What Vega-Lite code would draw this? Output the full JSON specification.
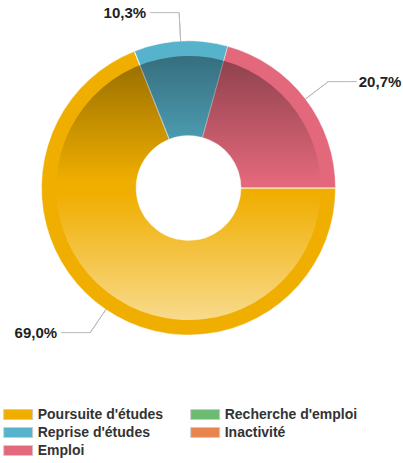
{
  "$schema": "https://vega.github.io/schema/vega-lite/v6.json",
  "width": 377,
  "height": 376,
  "autosize": {"type": "none"},
  "padding": {"left": 0, "top": 0, "right": 26, "bottom": 87},
  "background": "white",
  "config": {
    "view": {"stroke": null},
    "legend": {
      "symbolStrokeColor": "#cccccc",
      "symbolStrokeWidth": 1,
      "symbolOpacity": 1,
      "labelFont": "Liberation Sans",
      "labelFontSize": 14,
      "labelFontWeight": "bold",
      "labelColor": "#333333",
      "labelLimit": 300
    }
  },
  "data": {"values": [
    {"categorie": "Poursuite d'études", "part": 0.690, "libelle": "69,0%"},
    {"categorie": "Reprise d'études", "part": 0.103, "libelle": "10,3%"},
    {"categorie": "Emploi", "part": 0.207, "libelle": "20,7%"},
    {"categorie": "Recherche d'emploi", "part": 0, "libelle": "0,0%"},
    {"categorie": "Inactivité", "part": 0, "libelle": "0,0%"}
  ]},
  "layer": [
    {
      "mark": {"type": "arc", "outerRadius": 147, "innerRadius": 52.5, "stroke": "#ffffff", "strokeWidth": 0.6, "strokeOpacity": 0.7},
      "encoding": {
        "theta": {"field": "part", "type": "quantitative", "stack": true, "scale": {"domain": [0, 1], "range": [0.27018, 6.55337]}},
        "order": {"field": "categorie", "type": "ordinal", "sort": "ascending"},
        "color": {
          "field": "categorie",
          "type": "nominal",
          "scale": {
            "domain": ["Poursuite d'études", "Reprise d'études", "Emploi", "Recherche d'emploi", "Inactivité"],
            "range": ["#F0AE00", "#57B2CB", "#E3687B", "#6DBB72", "#E8854F"]
          },
          "legend": {
            "title": null,
            "orient": "none",
            "legendX": 11.2,
            "legendY": 407.5,
            "columns": 2,
            "padding": 0,
            "symbolType": "M-2.9,-1H2.9V1H-2.9Z",
            "symbolSize": 100,
            "labelOffset": 12.5,
            "rowPadding": 4,
            "columnPadding": 25
          }
        }
      }
    },
    {
      "transform": [{"aggregate": [{"op": "sum", "field": "part", "as": "total"}]}],
      "mark": {
        "type": "arc",
        "outerRadius": 132,
        "innerRadius": 52.5,
        "fill": {
          "gradient": "linear",
          "x1": 0, "y1": 0, "x2": 0, "y2": 1,
          "stops": [
            {"offset": 0, "color": "rgba(0,0,0,0.38)"},
            {"offset": 0.48, "color": "rgba(0,0,0,0)"},
            {"offset": 0.52, "color": "rgba(255,255,255,0)"},
            {"offset": 1, "color": "rgba(255,255,255,0.55)"}
          ]
        }
      },
      "encoding": {"theta": {"field": "total", "type": "quantitative"}}
    },
    {
      "transform": [
        {"stack": "part", "groupby": [], "sort": [{"field": "categorie", "order": "ascending"}], "as": ["debut", "fin"]},
        {"filter": "datum.part > 0"},
        {"fold": ["debut", "fin"], "as": ["borne", "angle"]},
        {"aggregate": [{"op": "mean", "field": "angle", "as": "milieu"}], "groupby": ["categorie", "libelle"]}
      ],
      "mark": {"type": "arc", "outerRadius": 175, "innerRadius": 147, "fillOpacity": 0, "stroke": "#bbbbbb", "strokeWidth": 1},
      "encoding": {
        "theta": {"field": "milieu", "type": "quantitative"},
        "theta2": {"field": "milieu"}
      }
    },
    {
      "transform": [
        {"stack": "part", "groupby": [], "sort": [{"field": "categorie", "order": "ascending"}], "as": ["debut", "fin"]},
        {"filter": "datum.categorie === 'Emploi'"},
        {"fold": ["debut", "fin"], "as": ["borne", "angle"]},
        {"aggregate": [{"op": "mean", "field": "angle", "as": "milieu"}], "groupby": ["categorie", "libelle"]}
      ],
      "mark": {"type": "text", "radius": 175, "align": "left", "baseline": "middle", "dx": 0, "font": "DejaVu Sans", "fontSize": 12, "color": "#bbbbbb", "text": "────"},
      "encoding": {
        "theta": {"field": "milieu", "type": "quantitative"}
      }
    },
    {
      "transform": [
        {"stack": "part", "groupby": [], "sort": [{"field": "categorie", "order": "ascending"}], "as": ["debut", "fin"]},
        {"filter": "datum.part > 0 && datum.categorie !== 'Emploi'"},
        {"fold": ["debut", "fin"], "as": ["borne", "angle"]},
        {"aggregate": [{"op": "mean", "field": "angle", "as": "milieu"}], "groupby": ["categorie", "libelle"]}
      ],
      "mark": {"type": "text", "radius": 175, "align": "right", "baseline": "middle", "dx": 0, "font": "DejaVu Sans", "fontSize": 12, "color": "#bbbbbb", "text": "────"},
      "encoding": {
        "theta": {"field": "milieu", "type": "quantitative"}
      }
    },
    {
      "transform": [
        {"stack": "part", "groupby": [], "sort": [{"field": "categorie", "order": "ascending"}], "as": ["debut", "fin"]},
        {"filter": "datum.categorie === 'Emploi'"},
        {"fold": ["debut", "fin"], "as": ["borne", "angle"]},
        {"aggregate": [{"op": "mean", "field": "angle", "as": "milieu"}], "groupby": ["categorie", "libelle"]}
      ],
      "mark": {"type": "text", "radius": 175, "align": "left", "baseline": "middle", "dx": 31, "font": "Liberation Sans", "fontSize": 15, "fontWeight": "bold", "color": "#222222"},
      "encoding": {
        "theta": {"field": "milieu", "type": "quantitative"},
        "text": {"field": "libelle", "type": "nominal"}
      }
    },
    {
      "transform": [
        {"stack": "part", "groupby": [], "sort": [{"field": "categorie", "order": "ascending"}], "as": ["debut", "fin"]},
        {"filter": "datum.part > 0 && datum.categorie !== 'Emploi'"},
        {"fold": ["debut", "fin"], "as": ["borne", "angle"]},
        {"aggregate": [{"op": "mean", "field": "angle", "as": "milieu"}], "groupby": ["categorie", "libelle"]}
      ],
      "mark": {"type": "text", "radius": 175, "align": "right", "baseline": "middle", "dx": -33, "font": "Liberation Sans", "fontSize": 15, "fontWeight": "bold", "color": "#222222"},
      "encoding": {
        "theta": {"field": "milieu", "type": "quantitative"},
        "text": {"field": "libelle", "type": "nominal"}
      }
    }
  ]
}
